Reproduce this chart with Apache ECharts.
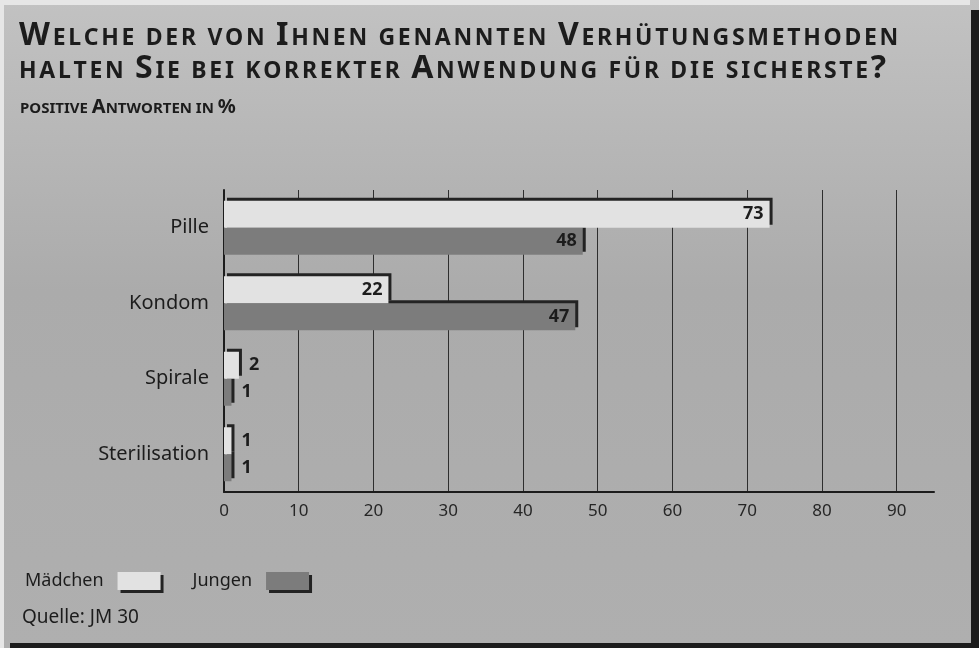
<!DOCTYPE html>
<html>
<head>
<meta charset="utf-8">
<script src="https://cdn.jsdelivr.net/npm/echarts@6/dist/echarts.min.js"></script>
<style>
  html, body { margin: 0; padding: 0; background: #b4b4b4; }
  #chart { width: 979px; height: 648px; }
</style>
</head>
<body>
<div id="chart"></div>
<script>
(function(){

  var titleLines = [
    'Welche der von Ihnen genannten Verhütungsmethoden',
    'halten Sie bei korrekter Anwendung für die sicherste?'
  ];
  var subtitle = 'positive Antworten in %';
  var source = 'Quelle: JM 30';

  var categories = ['Pille', 'Kondom', 'Spirale', 'Sterilisation'];
  var seriesNames = ['Mädchen', 'Jungen'];
  var maedchen = [73, 22, 2, 1];
  var jungen = [48, 47, 1, 1];

  var ink = '#1c1c1c';
  var lightBar = '#e2e2e2';
  var darkBar = '#7c7c7c';
  var edge = '#232323';
  var font = 'Noto Sans';

  // fake small caps: capitals big, the rest upper-cased and smaller, one token per letter
  function smallCaps(str) {
    var out = '';
    for (var i = 0; i < str.length; i++) {
      var ch = str[i];
      var big = ch !== ch.toLowerCase() || /[?%]/.test(ch);
      out += '{' + (big ? 'c' : 's') + '|' + (big ? ch : ch.toUpperCase()) + '}';
    }
    return out;
  }

  function barData(vals) {
    return vals.map(function(v){
      return {
        value: v,
        label: { position: v < 5 ? 'right' : 'insideRight', distance: v < 5 ? 10 : 6 }
      };
    });
  }

  var chartDom = document.getElementById('chart');
  var myChart = echarts.init(chartDom);

  var option = {
    backgroundColor: {
      type: 'linear', x: 0, y: 0, x2: 0, y2: 1,
      colorStops: [
        { offset: 0, color: '#c2c2c2' },
        { offset: 0.45, color: '#ababab' },
        { offset: 1, color: '#afafaf' }
      ]
    },
    textStyle: { fontFamily: font },
    animation: false,
    grid: { left: 224, top: 190, width: 710, height: 302, containLabel: false },
    xAxis: {
      type: 'value',
      min: 0,
      max: 95,
      interval: 10,
      axisLine: { show: true, lineStyle: { color: ink, width: 2 } },
      axisTick: { show: false },
      axisLabel: { color: '#262626', fontSize: 17, margin: 11, showMaxLabel: false },
      splitLine: { show: true, showMinLine: false, showMaxLine: false, lineStyle: { color: '#2e2e2e', width: 1 } }
    },
    yAxis: {
      type: 'category',
      data: categories,
      inverse: true,
      axisLine: { show: true, lineStyle: { color: ink, width: 2 } },
      axisTick: { show: false },
      axisLabel: { color: ink, fontSize: 20, margin: 15 }
    },
    legend: {
      data: seriesNames,
      left: 20,
      top: 567,
      orient: 'horizontal',
      align: 'right',
      icon: 'rect',
      itemWidth: 43,
      itemHeight: 18,
      itemGap: 32,
      textStyle: { color: ink, fontSize: 18, padding: [0, 9, 0, 0] },
      itemStyle: { shadowColor: edge, shadowOffsetX: 3, shadowOffsetY: 3, shadowBlur: 0 }
    },
    series: [
      {
        name: seriesNames[0],
        type: 'bar',
        z: 3,
        barWidth: 27,
        barGap: '0%',
        data: barData(maedchen),
        itemStyle: { color: lightBar, shadowColor: edge, shadowOffsetX: 3, shadowOffsetY: -3, shadowBlur: 0 },
        label: { show: true, color: ink, fontSize: 18, fontWeight: 'bold' }
      },
      {
        name: seriesNames[1],
        type: 'bar',
        z: 2,
        barWidth: 27,
        data: barData(jungen),
        itemStyle: { color: darkBar, shadowColor: edge, shadowOffsetX: 3, shadowOffsetY: -3, shadowBlur: 0 },
        label: { show: true, color: ink, fontSize: 18, fontWeight: 'bold' }
      }
    ],
    graphic: [
      { type: 'rect', left: 0, top: 0, shape: { width: 970, height: 5 }, style: { fill: '#e6e6e6' }, silent: true },
      { type: 'rect', left: 0, top: 0, shape: { width: 4, height: 648 }, style: { fill: '#e6e6e6' }, silent: true },
      { type: 'rect', left: 971, top: 10, shape: { width: 8, height: 638 }, style: { fill: '#1c1c1c' }, silent: true },
      { type: 'rect', left: 10, top: 643, shape: { width: 969, height: 5 }, style: { fill: '#1c1c1c' }, silent: true },
      {
        type: 'text', left: 19, top: 20,
        style: {
          text: smallCaps(titleLines[0]) + '\n' + smallCaps(titleLines[1]),
          fill: ink,
          rich: {
            c: { fontSize: 32, fontWeight: 'bold', fontFamily: font, fill: ink, verticalAlign: 'bottom', lineHeight: 33, padding: [0, 2.7, 0, 0] },
            s: { fontSize: 23, fontWeight: 'bold', fontFamily: font, fill: ink, verticalAlign: 'bottom', lineHeight: 33, padding: [0, 2.7, 2, 0] }
          }
        }
      },
      {
        type: 'text', left: 20, top: 97,
        style: {
          text: smallCaps(subtitle),
          fill: ink,
          rich: {
            c: { fontSize: 20, fontWeight: 'bold', fontFamily: font, fill: ink, verticalAlign: 'bottom', lineHeight: 22 },
            s: { fontSize: 15, fontWeight: 'bold', fontFamily: font, fill: ink, verticalAlign: 'bottom', lineHeight: 22, padding: [0, 0, 1, 0] }
          }
        }
      },
      {
        type: 'text', left: 22, top: 608,
        style: { text: source, fill: ink, font: '19px "Noto Sans"' }
      }
    ]
  };

  option && myChart.setOption(option);

})();
</script>
</body>
</html>
